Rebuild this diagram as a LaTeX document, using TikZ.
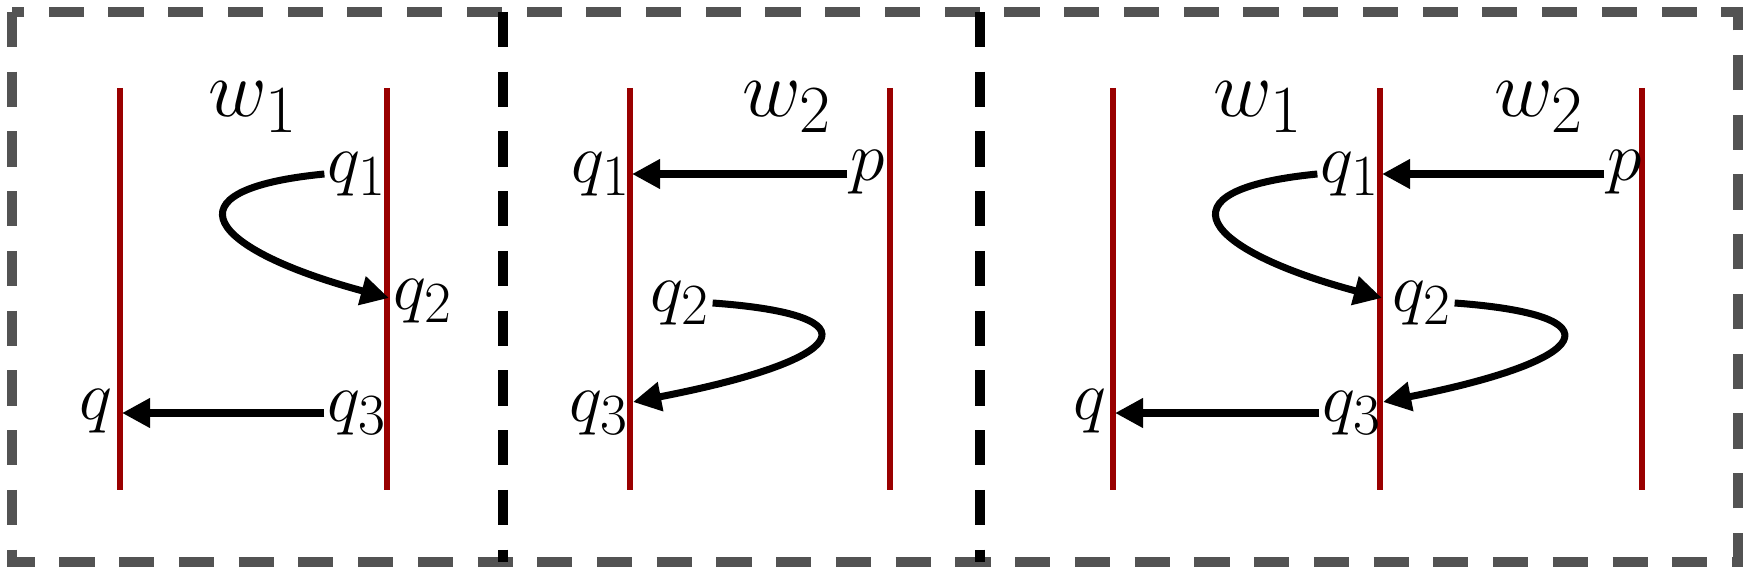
\documentclass[tikz,border=0pt]{standalone}
\usetikzlibrary{arrows.meta}
\tikzset{
  tape/.style={draw=red!60!black,line width=3pt},
  run/.style={line width=4pt,-{Triangle[length=16pt,width=16pt]}},
  st/.style={inner sep=1pt,font=\Huge,scale=1.6},
  wd/.style={inner sep=0pt,font=\Huge,scale=1.85}
}
\begin{document}
\begin{tikzpicture}[x=0.02cm,y=-0.02cm]
\useasboundingbox (0,0) rectangle (1750,574);
\draw[line width=6pt,gray!50!black!90,dash pattern=on 20pt off 14pt] (12,12) rectangle (1738,562);
\draw[line width=6pt,dash pattern=on 20pt off 14pt] (503,12)--(503,562);
\draw[line width=6pt,dash pattern=on 20pt off 14pt] (980,12)--(980,562);
% first panel
\draw[tape] (120,88)--(120,490);
\draw[tape] (387,88)--(387,490);
\node[wd] (wa) at (253,107) {$w_1$};
\node[st] (aq1) at (357,174) {$q_1$};
\node[st] (aq2) at (423,301) {$q_2$};
\node[st] (aq3) at (357,413) {$q_3$};
\node[st] (aq) at (96,411) {$q$};
\draw[run] (aq1.west) .. controls (160,190) and (210,250) .. (389,298);
\draw[run] (aq3.west) -- (122,413);
% second panel
\draw[tape] (630,88)--(630,490);
\draw[tape] (890,88)--(890,490);
\node[wd] (wb) at (787,107) {$w_2$};
\node[st] (bq1) at (601,174) {$q_1$};
\node[st] (bp) at (868,172) {$p$};
\node[st] (bq2) at (680,303) {$q_2$};
\node[st] (bq3) at (599,413) {$q_3$};
\draw[run] (bp.west |- 0,174) -- (632,174);
\draw[run] (bq2.east) .. controls (880,315) and (850,360) .. (633,402);
% third panel
\draw[tape] (1113,88)--(1113,490);
\draw[tape] (1380,88)--(1380,490);
\draw[tape] (1642,88)--(1642,490);
\node[wd] (wc) at (1258,107) {$w_1$};
\node[wd] (wd) at (1539,107) {$w_2$};
\node[st] (cq1) at (1350,174) {$q_1$};
\node[st] (cp) at (1625,172) {$p$};
\node[st] (cq2) at (1422,303) {$q_2$};
\node[st] (cq3) at (1352,413) {$q_3$};
\node[st] (cq) at (1090,411) {$q$};
\draw[run] (cp.west |- 0,174) -- (1382,174);
\draw[run] (cq1.west) .. controls (1153,190) and (1203,250) .. (1382,298);
\draw[run] (cq2.east) .. controls (1620,315) and (1595,360) .. (1383,402);
\draw[run] (cq3.west) -- (1115,413);
\end{tikzpicture}
\end{document}
